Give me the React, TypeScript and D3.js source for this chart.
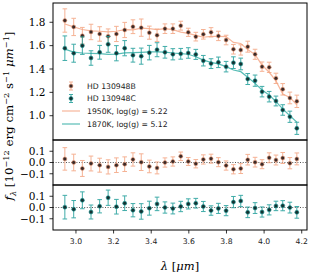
import * as d3 from "d3";
import React from "react";

// wavelength grid (micron)
const wave = [2.941, 2.988, 3.034, 3.08, 3.126, 3.171, 3.215, 3.259, 3.303, 3.347, 3.39, 3.431, 3.473, 3.515, 3.557, 3.597, 3.637, 3.677, 3.718, 3.757, 3.798, 3.837, 3.876, 3.913, 3.952, 3.989, 4.027, 4.063, 4.099, 4.137, 4.174];

// HD 130948B
const fluxB = [1.815, 1.76, 1.685, 1.717, 1.7, 1.68, 1.7, 1.734, 1.762, 1.754, 1.711, 1.689, 1.745, 1.745, 1.771, 1.714, 1.677, 1.697, 1.714, 1.683, 1.648, 1.569, 1.563, 1.591, 1.526, 1.42, 1.414, 1.32, 1.226, 1.152, 1.123];
const errB = [0.1, 0.074, 0.071, 0.066, 0.062, 0.063, 0.065, 0.065, 0.059, 0.074, 0.056, 0.053, 0.041, 0.041, 0.038, 0.035, 0.037, 0.041, 0.04, 0.04, 0.041, 0.041, 0.044, 0.047, 0.043, 0.04, 0.044, 0.044, 0.049, 0.05, 0.053];
const modelB = [1.785, 1.76, 1.738, 1.727, 1.723, 1.718, 1.723, 1.737, 1.735, 1.75, 1.746, 1.737, 1.745, 1.737, 1.716, 1.705, 1.688, 1.672, 1.68, 1.68, 1.677, 1.628, 1.618, 1.566, 1.523, 1.434, 1.372, 1.298, 1.186, 1.157, 1.092];
const residB = [0.032, 0.0, -0.053, -0.009, -0.024, -0.039, -0.024, -0.015, 0.027, 0.003, -0.035, -0.048, 0.0, 0.009, 0.055, 0.009, -0.011, 0.027, 0.034, 0.003, -0.027, -0.06, -0.054, 0.025, 0.003, -0.015, 0.042, 0.022, 0.04, -0.006, 0.032];

// HD 130948C
const fluxC = [1.578, 1.535, 1.6, 1.494, 1.543, 1.611, 1.535, 1.578, 1.518, 1.51, 1.54, 1.565, 1.543, 1.526, 1.53, 1.537, 1.525, 1.471, 1.446, 1.457, 1.42, 1.454, 1.443, 1.314, 1.3, 1.206, 1.163, 1.126, 1.049, 0.991, 0.892];
const errC = [0.105, 0.077, 0.075, 0.062, 0.059, 0.068, 0.065, 0.065, 0.059, 0.069, 0.062, 0.06, 0.05, 0.048, 0.046, 0.045, 0.043, 0.045, 0.042, 0.045, 0.045, 0.05, 0.05, 0.047, 0.048, 0.045, 0.045, 0.042, 0.045, 0.048, 0.052];
const modelC = [1.57, 1.545, 1.537, 1.534, 1.532, 1.525, 1.527, 1.538, 1.54, 1.543, 1.546, 1.546, 1.544, 1.537, 1.532, 1.526, 1.505, 1.476, 1.457, 1.444, 1.42, 1.391, 1.377, 1.329, 1.277, 1.22, 1.177, 1.12, 1.058, 1.0, 0.945];
const residC = [0.003, -0.015, 0.064, -0.04, 0.011, 0.087, 0.007, 0.038, -0.024, -0.035, -0.006, 0.032, 0.0, -0.009, 0.009, 0.032, 0.038, 0.009, -0.027, -0.008, -0.028, 0.048, 0.058, -0.043, -0.005, -0.04, -0.021, 0.014, 0.016, -0.001, -0.043];

const xTicks = [3.0, 3.2, 3.4, 3.6, 3.8, 4.0, 4.2];
const mainTicks = [1.0, 1.2, 1.4, 1.6, 1.8];
const residTicks = [-0.1, 0.0, 0.1];

const legendLabels = ["HD 130948B", "HD 130948C", "1950K, log(g) = 5.22", "1870K, log(g) = 5.12"];

const W = 312;
const H = 277;
const left = 53;
const right = 307;
const panels = [
	{ top: 3, bottom: 140 },
	{ top: 140, bottom: 185 },
	{ top: 185, bottom: 230 },
];

const orange = "#f4a582";
const orangeLine = "#f7b69b";
const teal = "#1f9e9a";
const tealLine = "#58bdb6";
const serif = "'DejaVu Serif', serif";
const sans = "'DejaVu Sans', sans-serif";

function fmt(v: number) {
	const s = Math.abs(v).toFixed(1);
	return v < -1e-9 ? "\u2212" + s : s;
}

function ErrorPoints({ x, y, vals, errs, color, dot }: {
	x: d3.ScaleLinear<number, number>;
	y: d3.ScaleLinear<number, number>;
	vals: number[];
	errs: number[];
	color: string;
	dot: string;
}) {
	return (
		<g>
			{vals.map((v, i) => {
				const cx = x(wave[i]);
				const y0 = y(v - errs[i]);
				const y1 = y(v + errs[i]);
				return (
					<g key={i} stroke={color} strokeWidth={1} opacity={0.85}>
						<line x1={cx} x2={cx} y1={y0} y2={y1} />
						<line x1={cx - 2.3} x2={cx + 2.3} y1={y0} y2={y0} />
						<line x1={cx - 2.3} x2={cx + 2.3} y1={y1} y2={y1} />
					</g>
				);
			})}
			{vals.map((v, i) => (
				<circle key={"m" + i} cx={x(wave[i])} cy={y(v)} r={2} fill={dot} stroke={color} strokeWidth={0.6} />
			))}
		</g>
	);
}

export default function App() {
	const x = d3.scaleLinear().domain([2.878, 4.228]).range([left, right]);
	const yMain = d3.scaleLinear().domain([0.792, 1.965]).range([panels[0].bottom, panels[0].top]);
	const yRes1 = d3.scaleLinear().domain([-0.2, 0.2]).range([panels[1].bottom, panels[1].top]);
	const yRes2 = d3.scaleLinear().domain([-0.2, 0.2]).range([panels[2].bottom, panels[2].top]);

	const line = (vals: number[]) =>
		d3.line<number>().x((_, i) => x(wave[i])).y((d) => yMain(d))(vals) ?? "";

	const yTicks = (scale: d3.ScaleLinear<number, number>, ticks: number[]) =>
		ticks.map((t) => (
			<g key={t} transform={`translate(${left},${scale(t)})`}>
				<line x1={-3.5} x2={0} stroke="#000" strokeWidth={0.8} />
				<text x={-7.5} dy="0.36em" textAnchor="end" fontFamily={serif} fontSize={10.5} fill="#000">
					{fmt(t)}
				</text>
			</g>
		));

	const lx = 62;
	const sub = 8.2;
	return (
		<svg width={W} height={H} style={{ position: "absolute", left: 0, top: 0, background: "#fff" }}>
			<defs>
				{panels.map((p, i) => (
					<clipPath id={"clip" + i} key={i}>
						<rect x={left} y={p.top} width={right - left} height={p.bottom - p.top} />
					</clipPath>
				))}
			</defs>

			{/* main panel */}
			<g clipPath="url(#clip0)">
				<path d={line(modelB)} fill="none" stroke={orangeLine} strokeWidth={1.2} />
				<path d={line(modelC)} fill="none" stroke={tealLine} strokeWidth={1.2} />
				<ErrorPoints x={x} y={yMain} vals={fluxB} errs={errB} color={orange} dot="#3b2a28" />
				<ErrorPoints x={x} y={yMain} vals={fluxC} errs={errC} color={teal} dot="#143232" />
			</g>

			{/* residual panels */}
			<g clipPath="url(#clip1)">
				<line x1={left} x2={right} y1={yRes1(0)} y2={yRes1(0)} stroke="#444" strokeWidth={0.9} strokeDasharray="1,1.6" />
				<ErrorPoints x={x} y={yRes1} vals={residB} errs={errB} color={orange} dot="#3b2a28" />
			</g>
			<g clipPath="url(#clip2)">
				<line x1={left} x2={right} y1={yRes2(0)} y2={yRes2(0)} stroke="#444" strokeWidth={0.9} strokeDasharray="1,1.6" />
				<ErrorPoints x={x} y={yRes2} vals={residC} errs={errC} color={teal} dot="#143232" />
			</g>

			{/* legend */}
			<g fontFamily={sans} fontSize={7.7} fill="#222">
				<g stroke={orange} strokeWidth={1} opacity={0.85}>
					<line x1={lx + 9} x2={lx + 9} y1={82} y2={90} />
					<line x1={lx + 7} x2={lx + 11} y1={82} y2={82} />
					<line x1={lx + 7} x2={lx + 11} y1={90} y2={90} />
				</g>
				<circle cx={lx + 9} cy={86} r={2} fill="#3b2a28" stroke={orange} strokeWidth={0.6} />
				<g stroke={teal} strokeWidth={1} opacity={0.85}>
					<line x1={lx + 9} x2={lx + 9} y1={94.5} y2={102.5} />
					<line x1={lx + 7} x2={lx + 11} y1={94.5} y2={94.5} />
					<line x1={lx + 7} x2={lx + 11} y1={102.5} y2={102.5} />
				</g>
				<circle cx={lx + 9} cy={98.5} r={2} fill="#143232" stroke={teal} strokeWidth={0.6} />
				<line x1={lx} x2={lx + 18} y1={111} y2={111} stroke={orangeLine} strokeWidth={1.2} />
				<line x1={lx} x2={lx + 18} y1={124} y2={124} stroke={tealLine} strokeWidth={1.2} />
				{legendLabels.map((t, i) => (
					<text key={t} x={87} y={[86, 98.5, 111, 124][i]} dy="0.35em">
						{t}
					</text>
				))}
			</g>

			{/* frames */}
			{panels.map((p, i) => (
				<rect key={i} x={left} y={p.top} width={right - left} height={p.bottom - p.top} fill="none" stroke="#000" strokeWidth={1} />
			))}

			{/* y ticks */}
			{yTicks(yMain, mainTicks)}
			{yTicks(yRes1, residTicks)}
			{yTicks(yRes2, residTicks)}

			{/* x ticks */}
			{xTicks.map((t) => (
				<g key={t} transform={`translate(${x(t)},${panels[2].bottom})`}>
					<line y1={0} y2={3.5} stroke="#000" strokeWidth={0.8} />
					<text y={13} dy="0.1em" textAnchor="middle" fontFamily={sans} fontSize={7.7} fill="#222">
						{t.toFixed(1)}
					</text>
				</g>
			))}

			{/* axis labels */}
			<text x={(left + right) / 2} y={270} textAnchor="middle" fontFamily={serif} fontSize={11.5} fill="#000">
				<tspan fontStyle="italic">λ</tspan> [<tspan fontStyle="italic">μm</tspan>]
			</text>
			<text transform="translate(13,116) rotate(-90)" textAnchor="middle" fontFamily={serif} fontSize={11.8} fill="#000">
				<tspan fontStyle="italic">f</tspan>
				<tspan fontSize={sub} fontStyle="italic" dy={2.8}>λ</tspan>
				<tspan dy={-2.8}> [10</tspan>
				<tspan fontSize={sub} dy={-4.5}>−12</tspan>
				<tspan dy={4.5}> erg cm</tspan>
				<tspan fontSize={sub} dy={-4.5}>−2</tspan>
				<tspan dy={4.5}> s</tspan>
				<tspan fontSize={sub} dy={-4.5}>−1</tspan>
				<tspan dy={4.5}> </tspan>
				<tspan fontStyle="italic">μm</tspan>
				<tspan fontSize={sub} dy={-4.5}>−1</tspan>
				<tspan dy={4.5}>]</tspan>
			</text>
		</svg>
	);
}
